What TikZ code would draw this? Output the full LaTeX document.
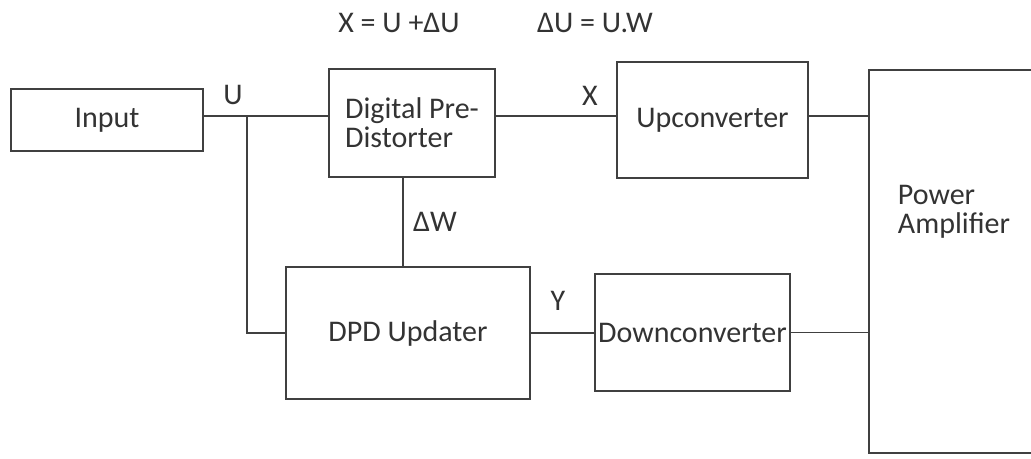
\documentclass[tikz,border=0pt]{standalone}
\usepackage{fontspec}
\setmainfont{Carlito}
\usetikzlibrary{positioning}

\begin{document}
\begin{tikzpicture}[x=0.75pt,y=-0.75pt,
  blk/.style={draw=black!75,line width=1.4pt,inner sep=0pt,font=\fontsize{22.5}{21.75}\selectfont,text=black!80},
  txt/.style={font=\fontsize{22.5}{21.75}\selectfont,text=black!80,inner sep=0pt},
  wire/.style={draw=black!75,line width=1.4pt}]
\clip (0,0) rectangle (1031,458);
% blocks
\node[blk,minimum width=144pt,minimum height=46.5pt] (in) at (107,120) {Input};
\node[blk,minimum width=124.5pt,minimum height=81pt,align=left] (dpd) at (412,123) {Digital Pre-\\Distorter};
\node[blk,minimum width=143.25pt,minimum height=87pt] (up) at (712.5,120) {Upconverter};
\node[blk,minimum width=132pt,minimum height=287.25pt] (pa) at (957,261.5) {};
\node[txt,align=left] (patxt) at (954,212) {Power\\Amplifier};
\node[blk,minimum width=183pt,minimum height=99pt] (upd) at (408,333) {DPD Updater};
\node[blk,minimum width=146.25pt,minimum height=87.75pt] (down) at (692.5,332.5) {Downconverter};
% equations
\node[txt] (eqx) at (399,23) {X = U +ΔU};
\node[txt] (equ) at (595,23) {ΔU = U.W};
% signal labels
\node[txt] (lu) at (233,95) {U};
\node[txt] (lx) at (590,96) {X};
\node[txt] (ldw) at (435,222) {ΔW};
\node[txt] (ly) at (558,301) {Y};
% wires
\coordinate (j) at (247,116);
\coordinate (dw) at (403,0);
\draw[wire] (j -| in.east) -- (j -| dpd.west);
\draw[wire] (j) |- (upd.west);
\draw[wire] (j -| dpd.east) -- (j -| up.west);
\draw[wire] (j -| up.east) -- (j -| pa.west);
\draw[wire] (dw |- dpd.south) -- (dw |- upd.north);
\draw[wire] (upd.east) -- (upd.east -| down.west);
\draw[wire] (down.east) -- (down.east -| pa.west);
\end{tikzpicture}
\end{document}
